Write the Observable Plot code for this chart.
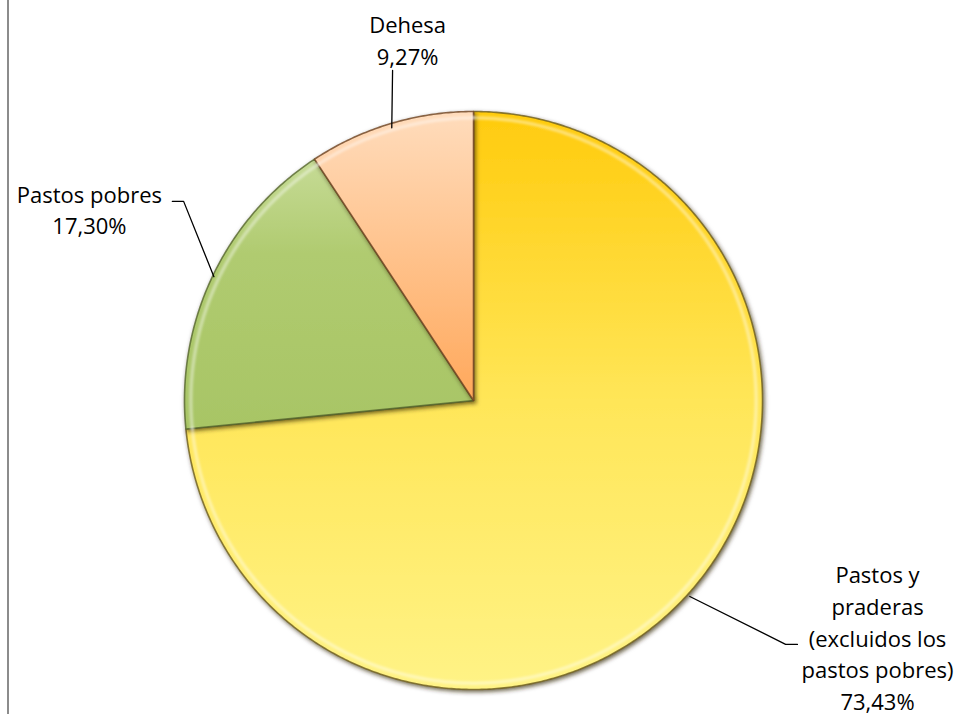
<!DOCTYPE html>
<html><head><meta charset="utf-8">
<script src="https://cdn.jsdelivr.net/npm/d3@7"></script>
<script src="https://cdn.jsdelivr.net/npm/@observablehq/plot@0.6"></script>
<style>
html,body{margin:0;padding:0;background:#fff;}
#wrap{position:relative;width:958px;height:715px;overflow:hidden;}
#frame{position:absolute;left:7px;top:0;width:0;height:714px;border-left:2px solid #8c8c8c;}
#wrap svg{position:absolute;left:0;top:0;}
</style></head><body><div id="wrap"><div id="frame"></div></div>
<script>
// ---- data ----
const categories = ["Pastos y\npraderas\n(excluidos los\npastos pobres)", "Pastos pobres", "Dehesa"];
const values = [73.43, 17.30, 9.27];

// ---- styling / layout (not data) ----
const baseColors = ["#FFE34F", "#AFCA6E", "#FFBE85"];
const gradStops = [
  [["0%", "#FFCB0D"], ["50%", "#FFE658"], ["100%", "#FFF386"]],
  [["0%", "#C6DB96"], ["35%", "#B0CB70"], ["100%", "#A8C565"]],
  [["0%", "#FFDCBC"], ["100%", "#FFA85B"]]
];
const edgeColors = ["#6E5E1E", "#56662E", "#6E4422"];
// label anchors and leader elbows in pie-radius units (y up)
const labelAnchor = [[1.398, -0.816], [-1.329, 0.665], [-0.228, 1.253]];
const leaderElbow = [[[1.080, -0.844], [1.121, -0.844]], [[-1.003, 0.689], [-1.042, 0.689]], [[-0.280, 1.142]]];
const leaderStartR = [1.01, 0.995, 0.985];

const cx = 473, cy = 400, R = 289;
const W = 958, H = 715;

const fmt = v => v.toFixed(2).replace(".", ",") + "%";
const total = d3.sum(values);

// slices as polygons (angles clockwise from 12 o'clock)
let acc = 0;
const slices = values.map((v, i) => {
  const a0 = acc / total * 2 * Math.PI;
  acc += v;
  const a1 = acc / total * 2 * Math.PI;
  const pts = [{x: 0, y: 0}];
  const n = Math.max(4, Math.ceil((a1 - a0) / (Math.PI / 360)));
  for (let k = 0; k <= n; k++) {
    const a = a0 + (a1 - a0) * k / n;
    pts.push({x: Math.sin(a), y: Math.cos(a)});
  }
  pts.push({x: 0, y: 0});
  return {i, a0, a1, mid: (a0 + a1) / 2, pts};
});

const labels = slices.map(s => ({
  x: labelAnchor[s.i][0], y: labelAnchor[s.i][1],
  text: categories[s.i] + "\n" + fmt(values[s.i])
}));
const leaders = slices.map(s => {
  const r = leaderStartR[s.i];
  return [{x: r * Math.sin(s.mid), y: r * Math.cos(s.mid)}, ...leaderElbow[s.i].map(([x, y]) => ({x, y}))];
});

const marks = [];
slices.forEach(s => {
  marks.push(Plot.line(s.pts, {x: "x", y: "y", fill: baseColors[s.i], stroke: edgeColors[s.i], strokeWidth: 1.6, strokeOpacity: 0.8, ariaDescription: `slice-${s.i}`}));
});
// inner highlight rims
slices.forEach(s => {
  const rim = s.pts.slice(1, -1).map(p => ({x: p.x * 0.978, y: p.y * 0.978}));
  marks.push(Plot.line(rim, {x: "x", y: "y", stroke: "#ffffff", strokeWidth: 3.5, strokeOpacity: 0.4, ariaDescription: `rim-${s.i}`}));
});
leaders.forEach(l => marks.push(Plot.line(l, {x: "x", y: "y", stroke: "#000000", strokeWidth: 1.3})));
marks.push(Plot.text(labels, {x: "x", y: "y", text: "text", fontSize: 22, lineHeight: 1.45, fontFamily: "Open Sans", fill: "#000000"}));

const svg = Plot.plot({
  width: W, height: H, margin: 0,
  x: {domain: [-1, 1], range: [cx - R, cx + R], axis: null},
  y: {domain: [-1, 1], range: [cy + R, cy - R], axis: null},
  style: {background: "transparent", overflow: "visible"},
  marks
});

// gradients and filters
const sel = d3.select(svg);
const defs = sel.insert("defs", ":first-child");
slices.forEach(s => {
  const ys = s.pts.map(p => cy - p.y * R);
  const g = defs.append("linearGradient").attr("id", `grad${s.i}`)
    .attr("gradientUnits", "userSpaceOnUse")
    .attr("x1", 0).attr("x2", 0).attr("y1", d3.min(ys)).attr("y2", d3.max(ys));
  gradStops[s.i].forEach(([o, c]) => g.append("stop").attr("offset", o).attr("stop-color", c));
});
const f = defs.append("filter").attr("id", "shadow").attr("x", "-10%").attr("y", "-10%").attr("width", "120%").attr("height", "120%");
f.append("feDropShadow").attr("dx", 1.5).attr("dy", 2).attr("stdDeviation", 2).attr("flood-color", "#2e2400").attr("flood-opacity", 0.7);
const fb = defs.append("filter").attr("id", "soft");
fb.append("feGaussianBlur").attr("stdDeviation", 1.3);
slices.forEach(s => {
  const g = sel.select(`g[aria-description="slice-${s.i}"]`);
  g.attr("filter", "url(#shadow)");
  g.attr("fill", `url(#grad${s.i})`);
  sel.select(`g[aria-description="rim-${s.i}"]`).attr("filter", "url(#soft)");
});

document.getElementById("wrap").appendChild(svg);
</script></body></html>
